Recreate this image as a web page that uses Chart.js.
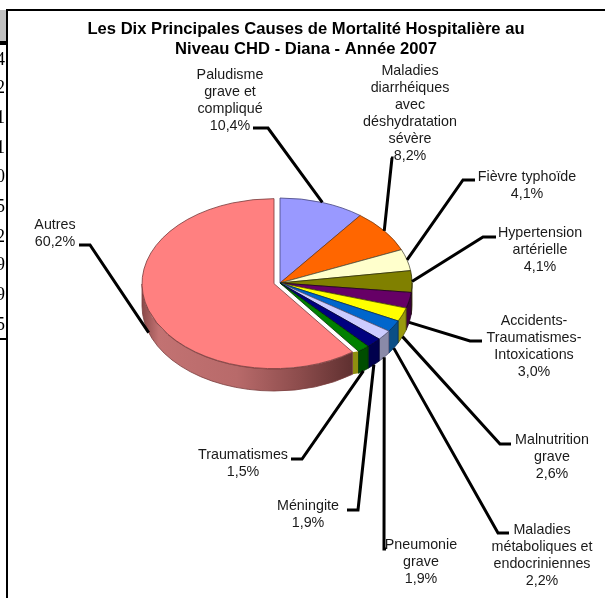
<!DOCTYPE html>
<html lang="fr">
<head>
<meta charset="utf-8">
<title>Causes de mortalité hospitalière</title>
<script src="https://cdn.jsdelivr.net/npm/chart.js@4"></script>
<style>
html,body{margin:0;padding:0;background:#fff;overflow:hidden}
canvas{display:block}
</style>
</head>
<body>
<canvas id="c" width="605" height="598"></canvas>
<script>
// Data
const titleLines = ["Les Dix Principales Causes de Mortalité Hospitalière au", "Niveau CHD - Diana - Année 2007"];
const categories = ["Paludisme grave et compliqué", "Maladies diarrhéiques avec déshydratation sévère", "Fièvre typhoïde", "Hypertension artérielle", "Accidents-Traumatismes-Intoxications", "Malnutrition grave", "Maladies métaboliques et endocriniennes", "Pneumonie grave", "Méningite", "Traumatismes", "Autres"];
const values = [10.4, 8.2, 4.1, 4.1, 3.0, 2.6, 2.2, 1.9, 1.9, 1.5, 60.2];
const tableDigits = ["4", "2", "1", "1", "0", "5", "2", "9", "9", "5"];

// Styles
const topColors = ["#9999ff", "#ff6600", "#ffffcc", "#808000", "#660066", "#ffff00", "#0066cc", "#ccccff", "#000080", "#008000", "#ff8080"];
const sideColors = ["#5c5c99", "#993d00", "#99997a", "#4d4d00", "#3d003d", "#99990d", "#0a4f86", "#8a8aa8", "#00004d", "#004d00", "#99504d"];
const edgeColors = ["#4a4a80", "#7a3a10", "#555540", "#333300", "#220022", "#555500", "#003366", "#555577", "#000033", "#003300", "#7a3c3c"];

// Label layout: wrapped lines, centre x, first line centre y, leader elbow and end
const labelLines = [
  ["Paludisme", "grave et", "compliqué"],
  ["Maladies", "diarrhéiques", "avec", "déshydratation", "sévère"],
  ["Fièvre typhoïde"],
  ["Hypertension", "artérielle"],
  ["Accidents-", "Traumatismes-", "Intoxications"],
  ["Malnutrition", "grave"],
  ["Maladies", "métaboliques et", "endocriniennes"],
  ["Pneumonie", "grave"],
  ["Méningite"],
  ["Traumatismes"],
  ["Autres"]
];
const labelX = [230, 410, 527, 540, 534, 552, 542, 421, 308, 243, 55];
const labelY = [75, 71, 177, 233, 321, 440, 530, 545, 506, 455, 225];
const leaderElbow = [[268,128],[392,158],[463,180],[483,237],[470,341],[500,444],[498,533],[384,549],[358,510],[302,459],[90,245]];
const leaderEnd = [[253,128],[391,158],[475,180],[496,237],[482,341],[511,444],[509,533],[386,549],[347,510],[291,459],[79,245]];
const digitY = [60, 88, 118, 148, 177, 207, 237, 265, 295, 325];

// Pie geometry
const CX = 280, CY = 283, R = 132, K = 85 / 132, DEPTH = 22;
const APART = [-6, 1]; // detached "Autres" slice
const SANS = '"Liberation Sans", Arial, sans-serif';
const LINE = 17;

function sideBand(ctx, x, y, a, b) {
  ctx.beginPath();
  ctx.ellipse(x, y, R, R * K, 0, a, b);
  ctx.ellipse(x, y + DEPTH, R, R * K, 0, b, a, true);
  ctx.closePath();
}

const scenePlugin = {
  id: 'scene',
  beforeDraw(chart) {
    const ctx = chart.ctx;
    ctx.save();
    ctx.fillStyle = '#c0c0c0';
    ctx.fillRect(0, 10, 6, 31);
    ctx.fillStyle = '#000';
    ctx.fillRect(0, 41, 6, 4);
    ctx.fillRect(0, 338, 6, 2);
    ctx.fillRect(6, 9, 599, 2);
    ctx.fillRect(6, 9, 2, 589);
    ctx.font = '18px "Liberation Serif", "Times New Roman", serif';
    ctx.textAlign = 'right';
    ctx.textBaseline = 'middle';
    tableDigits.forEach((d, i) => ctx.fillText(d, 5, digitY[i]));
    ctx.restore();
  },
  afterDatasetsUpdate(chart) {
    const arcs = chart.getDatasetMeta(0).data;
    arcs.forEach((el, i) => {
      const apart = i === arcs.length - 1 ? APART : [0, 0];
      el.x = CX + apart[0];
      el.y = CY + apart[1];
    });
  },
  beforeDatasetsDraw(chart) {
    const ctx = chart.ctx;
    const arcs = chart.getDatasetMeta(0).data;
    ctx.save();
    // wall in the gap left by the detached slice
    const last = arcs[arcs.length - 1];
    const a0 = last.startAngle;
    const px = Math.cos(a0) * R, py = Math.sin(a0) * R * K;
    ctx.fillStyle = '#8f8f10';
    ctx.beginPath();
    ctx.moveTo(last.x + px, last.y + py);
    ctx.lineTo(CX + px, CY + py);
    ctx.lineTo(CX + px, CY + py + DEPTH);
    ctx.lineTo(last.x + px, last.y + py + DEPTH);
    ctx.closePath();
    ctx.fill();
    // outer side of every slice that faces the viewer
    arcs.forEach((el, i) => {
      const a = Math.max(el.startAngle, 0);
      const b = Math.min(el.endAngle, Math.PI);
      if (b <= a) return;
      sideBand(ctx, el.x, el.y, a, b);
      if (i === arcs.length - 1) {
        const g = ctx.createLinearGradient(el.x - R, 0, el.x + Math.cos(a) * R, 0);
        g.addColorStop(0, '#8a4a4a');
        g.addColorStop(0.08, '#c27272');
        g.addColorStop(0.45, '#b86a6a');
        g.addColorStop(0.75, '#8c4c4c');
        g.addColorStop(1, '#5f3030');
        ctx.fillStyle = g;
      } else {
        ctx.fillStyle = sideColors[i];
      }
      ctx.fill();
      ctx.lineWidth = 0.8;
      ctx.strokeStyle = edgeColors[i];
      ctx.stroke();
    });
    ctx.restore();
    // flatten the library's circular arcs into the tilted ellipse
    ctx.save();
    ctx.translate(0, CY);
    ctx.scale(1, K);
    ctx.translate(0, -CY);
  },
  afterDatasetsDraw(chart) {
    const ctx = chart.ctx;
    ctx.restore();
    const arcs = chart.getDatasetMeta(0).data;
    ctx.save();
    ctx.strokeStyle = '#000';
    ctx.lineWidth = 3;
    ctx.lineJoin = 'miter';
    arcs.forEach((el, i) => {
      const mid = (el.startAngle + el.endAngle) / 2;
      const x = el.x + Math.cos(mid) * R;
      let y = el.y + Math.sin(mid) * R * K;
      if (Math.sin(mid) > 0.05) y += DEPTH;
      ctx.beginPath();
      ctx.moveTo(x, y);
      ctx.lineTo(leaderElbow[i][0], leaderElbow[i][1]);
      ctx.lineTo(leaderEnd[i][0], leaderEnd[i][1]);
      ctx.stroke();
    });
    ctx.fillStyle = '#1a1a1a';
    ctx.font = '14.3px ' + SANS;
    ctx.textAlign = 'center';
    ctx.textBaseline = 'middle';
    labelLines.forEach((lines, i) => {
      const all = lines.concat(values[i].toFixed(1).replace('.', ',') + '%');
      all.forEach((t, j) => ctx.fillText(t, labelX[i], labelY[i] + j * LINE));
    });
    ctx.restore();
  }
};

new Chart(document.getElementById('c'), {
  type: 'pie',
  data: {
    labels: categories,
    datasets: [{
      data: values,
      backgroundColor: topColors,
      borderColor: edgeColors,
      borderWidth: 1,
      clip: false
    }]
  },
  options: {
    responsive: false,
    animation: false,
    radius: R,
    layout: { padding: { left: 7, right: 0, top: 19, bottom: 0 } },
    plugins: {
      legend: { display: false },
      tooltip: { enabled: false },
      title: {
        display: true,
        text: titleLines,
        color: '#000',
        font: { family: SANS, size: 16.6, weight: 'bold', lineHeight: 20 / 16.6 },
        padding: 0
      }
    }
  },
  plugins: [scenePlugin]
});
</script>
</body>
</html>
